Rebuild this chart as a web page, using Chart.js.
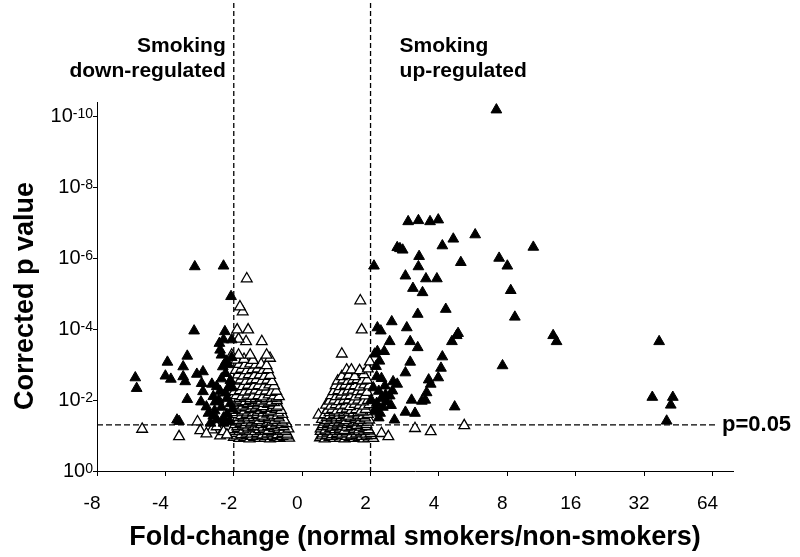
<!DOCTYPE html>
<html>
<head>
<meta charset="utf-8">
<script src="https://cdn.jsdelivr.net/npm/chart.js@4.4.1/dist/chart.umd.min.js"></script>
<style>
  body { margin: 0; background: #fff; }
  canvas { display: block; }
</style>
</head>
<body>
<canvas id="volcano" width="800" height="557"></canvas>
<script>
const FONT = '"Liberation Sans", Arial, Helvetica, sans-serif';

// fold-change axis: one step per doubling, linear between -2 and 2
const xTickPos = [-3, -2, -1, 0, 1, 2, 3, 4, 5, 6];
const xTickLabels = ['-8', '-4', '-2', '0', '2', '4', '8', '16', '32', '64'];
// y is -log10(corrected p)
const yTickExps = [0, 2, 4, 6, 8, 10];
const pCutoff = 0.05;
const foldCutoff = 1; // axis position of fold-change 2 / -2

// [fold position, -log10 p]
const sigDown = [
  [-1.57,5.76],[-1.15,5.78],[-1.04,4.92],[-1.58,3.95],[-1.13,3.93],[-1.15,3.70],[-1.03,3.70],[-1.21,3.60],[-1.20,3.41],
  [-2.44,2.63],[-2.42,2.33],[-1.97,3.07],[-2.00,2.68],[-1.92,2.59],[-1.68,3.24],[-1.74,2.94],[-1.74,2.66],[-1.71,2.52],
  [-1.68,2.02],[-1.83,1.44],[-1.80,1.40],[-1.54,2.73],[-1.45,2.80],[-1.47,2.47],[-1.45,2.24],[-1.48,1.95],[-1.40,1.81],
  [-1.37,1.63],[-1.32,2.45],[-1.25,2.38],[-1.16,2.94],[-1.18,3.27],[-1.11,3.10],
  [-1.30,2.10],[-1.22,2.00],[-1.12,2.20],[-1.05,2.55],[-1.08,2.35],[-1.18,1.80],[-1.28,1.70],[-1.10,1.60],[-1.05,1.90],
  [-1.15,1.50],[-1.25,1.45],[-1.34,1.35],[-1.02,1.75],[-1.08,3.00],[-1.12,2.75],[-1.03,3.20],[-1.18,2.60],[-1.02,2.35],
  [-1.06,1.40],[-1.30,1.55],[-1.20,2.25],[-1.10,2.05],[-1.27,1.95],[-1.15,1.35]
];

const sigUp = [
  [2.84,10.18],[1.55,7.03],[1.70,7.06],[1.87,7.03],[1.99,7.08],[2.21,6.54],[2.53,6.66],[3.38,6.31],
  [1.39,6.30],[1.43,6.27],[1.47,6.23],[2.05,6.35],[1.71,6.05],[1.70,5.76],[2.32,5.88],[2.88,6.00],[3.00,5.78],
  [1.05,5.78],[1.51,5.50],[1.81,5.42],[1.97,5.42],[1.62,5.15],[1.76,5.03],[3.05,5.09],
  [2.10,4.56],[1.69,4.42],[3.11,4.34],[1.31,4.21],[1.10,4.04],[1.15,3.95],[1.53,4.04],
  [2.28,3.88],[2.26,3.82],[2.19,3.65],[1.28,3.65],[1.58,3.65],[1.69,3.48],[3.67,3.82],[3.72,3.65],[5.22,3.65],
  [1.10,3.37],[1.20,3.37],[1.06,3.30],[2.05,3.22],[1.58,3.07],[2.93,2.97],[2.03,2.90],[1.51,2.77],[1.99,2.63],
  [1.09,2.66],[1.16,2.61],[1.33,2.52],[1.39,2.45],[1.85,2.57],[1.88,2.45],[1.21,2.40],[1.32,2.26],[1.82,2.21],
  [1.60,2.00],[1.80,2.00],[1.75,1.97],[1.01,2.00],[1.16,2.05],[1.24,1.95],[1.09,1.91],[2.23,1.81],[1.51,1.66],
  [1.65,1.63],[1.06,1.67],[1.14,1.63],[1.35,1.44],[1.22,2.15],[1.12,2.25],[1.28,2.12],[1.08,1.78],[1.18,1.80],
  [1.30,1.85],[1.12,1.50],[1.04,2.35],[1.13,3.10],[1.08,2.95],
  [5.12,2.08],[5.42,2.08],[5.39,1.86],[5.33,1.41]
];

const notSigDown = [
  [-1.00,0.95],[-0.92,0.92],[-0.85,0.94],[-0.77,0.91],[-0.70,0.95],[-0.62,0.92],[-0.55,0.93],[-0.47,0.91],[-0.40,0.94],[-0.33,0.92],[-0.26,0.95],[-0.19,0.93],
  [-0.96,0.99],[-0.88,0.99],[-0.81,1.00],[-0.73,0.98],[-0.66,0.99],[-0.58,1.00],[-0.51,0.98],[-0.43,0.99],[-0.36,1.00],[-0.29,0.98],[-0.22,0.99],
  [-0.97,1.06],[-0.89,1.03],[-0.81,1.07],[-0.74,1.04],[-0.66,1.06],[-0.58,1.02],[-0.51,1.05],[-0.44,1.08],[-0.36,1.03],[-0.29,1.06],[-0.22,1.04],
  [-0.99,1.12],[-0.92,1.11],[-0.84,1.13],[-0.77,1.12],[-0.69,1.11],[-0.61,1.13],[-0.54,1.12],[-0.47,1.11],[-0.39,1.12],[-0.32,1.13],[-0.24,1.11],
  [-1.02,1.17],[-0.94,1.20],[-0.86,1.16],[-0.79,1.19],[-0.71,1.21],[-0.63,1.17],[-0.56,1.19],[-0.49,1.15],[-0.41,1.20],[-0.34,1.18],[-0.27,1.16],[-0.20,1.19],
  [-0.95,1.25],[-0.87,1.26],[-0.80,1.24],[-0.72,1.25],[-0.65,1.26],[-0.57,1.24],[-0.50,1.25],[-0.42,1.26],[-0.35,1.24],[-0.27,1.25],
  [-0.98,1.31],[-0.90,1.34],[-0.83,1.30],[-0.75,1.33],[-0.67,1.35],[-0.60,1.31],[-0.52,1.34],[-0.45,1.29],[-0.38,1.33],[-0.30,1.31],[-0.23,1.34],
  [-0.97,1.38],[-0.89,1.39],[-0.82,1.37],[-0.74,1.38],[-0.66,1.39],[-0.59,1.37],[-0.51,1.38],[-0.44,1.39],[-0.36,1.37],[-0.29,1.38],
  [-1.01,1.46],[-0.93,1.43],[-0.86,1.47],[-0.78,1.44],[-0.70,1.46],[-0.63,1.42],[-0.55,1.48],[-0.48,1.45],[-0.40,1.43],[-0.33,1.47],[-0.26,1.44],
  [-0.94,1.51],[-0.86,1.52],[-0.79,1.50],[-0.71,1.51],[-0.64,1.52],[-0.56,1.50],[-0.49,1.51],[-0.41,1.52],[-0.34,1.50],
  [-0.96,1.59],[-0.89,1.56],[-0.81,1.60],[-0.73,1.57],[-0.66,1.59],[-0.58,1.55],[-0.51,1.61],[-0.43,1.58],[-0.36,1.56],[-0.29,1.60],
  [-0.97,1.65],[-0.88,1.66],[-0.80,1.64],[-0.72,1.65],[-0.65,1.66],[-0.57,1.64],[-0.50,1.65],[-0.42,1.66],[-0.35,1.64],
  [-0.99,1.71],[-0.92,1.74],[-0.84,1.70],[-0.76,1.73],[-0.69,1.75],[-0.61,1.71],[-0.54,1.73],[-0.46,1.69],[-0.39,1.74],[-0.31,1.71],
  [-0.91,1.78],[-0.83,1.79],[-0.75,1.77],[-0.68,1.78],[-0.60,1.79],[-0.53,1.77],[-0.45,1.78],[-0.38,1.79],
  [-0.95,1.86],[-0.87,1.83],[-0.80,1.87],[-0.72,1.84],[-0.65,1.86],[-0.57,1.82],[-0.50,1.88],[-0.42,1.85],[-0.35,1.83],
  [-0.95,1.92],[-0.87,1.93],[-0.79,1.91],[-0.72,1.92],[-0.64,1.93],[-0.56,1.91],[-0.49,1.92],[-0.41,1.93],
  [-1.00,1.97],[-0.91,2.00],[-0.83,1.96],[-0.76,1.99],[-0.68,2.01],[-0.60,1.97],[-0.53,2.00],[-0.45,1.95],[-0.37,1.99],
  [-0.92,2.05],[-0.84,2.06],[-0.76,2.04],[-0.68,2.05],[-0.61,2.06],[-0.53,2.04],[-0.45,2.05],[-0.38,2.06],
  [-0.96,2.13],[-0.88,2.10],[-0.80,2.14],[-0.72,2.11],[-0.64,2.13],[-0.57,2.09],[-0.49,2.15],[-0.41,2.12],[-0.34,2.10],
  [-0.99,2.24],[-0.91,2.27],[-0.84,2.23],[-0.76,2.26],[-0.68,2.28],[-0.61,2.24],[-0.53,2.26],[-0.45,2.22],[-0.38,2.25],
  [-0.95,2.41],[-0.87,2.38],[-0.79,2.42],[-0.71,2.39],[-0.64,2.41],[-0.56,2.37],[-0.48,2.43],[-0.41,2.40],
  [-0.98,2.54],[-0.90,2.57],[-0.82,2.53],[-0.74,2.56],[-0.67,2.58],[-0.59,2.54],[-0.51,2.56],[-0.44,2.52],
  [-0.94,2.71],[-0.86,2.68],[-0.78,2.72],[-0.70,2.69],[-0.62,2.71],[-0.55,2.67],[-0.47,2.70],
  [-0.97,2.84],[-0.89,2.87],[-0.81,2.83],[-0.73,2.86],[-0.65,2.88],[-0.57,2.84],[-0.50,2.86],
  [-0.92,3.01],[-0.84,2.98],[-0.76,3.02],[-0.68,2.99],[-0.60,3.01],[-0.52,2.97],
  [-0.96,3.13],[-0.85,3.15],[-0.72,3.12],[-0.47,3.18],
  [-1.03,3.27],[-0.93,3.27],[-0.76,3.27],[-0.52,3.27],
  [-0.59,3.65],[-0.82,3.65],[-0.93,3.72],[-0.95,3.98],[-0.79,3.98],[-0.87,4.49],[-0.91,4.63],[-0.81,5.42],
  [-2.34,1.18],[-1.80,0.97],[-1.53,1.39],[-1.49,1.14],[-1.32,1.16],[-1.20,0.99],[-1.25,1.25],[-1.15,1.11],[-1.10,1.02],[-1.40,1.05]
];

const notSigUp = [
  [0.26,0.94],[0.33,0.91],[0.40,0.95],[0.47,0.92],[0.55,0.93],[0.62,0.91],[0.69,0.94],[0.76,0.92],[0.83,0.95],[0.90,0.91],[0.97,0.93],[1.04,0.92],
  [0.29,0.99],[0.36,1.00],[0.43,0.98],[0.51,0.99],[0.58,1.00],[0.65,0.98],[0.72,0.99],[0.80,1.00],[0.87,0.98],[0.94,0.99],[1.01,1.00],
  [0.30,1.05],[0.37,1.08],[0.44,1.03],[0.51,1.06],[0.58,1.04],[0.65,1.07],[0.72,1.02],[0.79,1.05],[0.86,1.08],[0.93,1.04],[1.00,1.06],
  [0.27,1.12],[0.34,1.13],[0.41,1.11],[0.48,1.12],[0.55,1.13],[0.62,1.11],[0.69,1.12],[0.76,1.13],[0.83,1.11],[0.90,1.12],[0.97,1.13],
  [0.27,1.19],[0.34,1.16],[0.41,1.20],[0.48,1.17],[0.55,1.19],[0.62,1.15],[0.69,1.21],[0.76,1.18],[0.83,1.16],[0.90,1.20],[0.97,1.17],
  [0.30,1.25],[0.37,1.26],[0.44,1.24],[0.51,1.25],[0.58,1.26],[0.65,1.24],[0.72,1.25],[0.79,1.26],[0.86,1.24],[0.93,1.25],
  [0.31,1.31],[0.38,1.34],[0.45,1.30],[0.52,1.33],[0.59,1.35],[0.66,1.31],[0.73,1.34],[0.80,1.29],[0.87,1.33],[0.94,1.31],
  [0.33,1.38],[0.40,1.39],[0.47,1.37],[0.54,1.38],[0.61,1.39],[0.68,1.37],[0.75,1.38],[0.82,1.39],[0.89,1.37],[0.96,1.38],
  [0.29,1.46],[0.36,1.43],[0.43,1.47],[0.50,1.44],[0.57,1.46],[0.64,1.42],[0.71,1.48],[0.78,1.45],[0.85,1.43],[0.92,1.47],[0.98,1.44],
  [0.36,1.51],[0.43,1.52],[0.50,1.50],[0.57,1.51],[0.64,1.52],[0.71,1.50],[0.78,1.51],[0.85,1.52],[0.92,1.50],
  [0.24,1.58],[0.33,1.59],[0.40,1.56],[0.47,1.60],[0.54,1.57],[0.61,1.59],[0.68,1.55],[0.75,1.61],[0.82,1.58],[0.89,1.56],[0.96,1.60],
  [0.40,1.65],[0.47,1.66],[0.54,1.64],[0.61,1.65],[0.68,1.66],[0.75,1.64],[0.82,1.65],[0.89,1.66],
  [0.37,1.71],[0.44,1.74],[0.51,1.70],[0.58,1.73],[0.65,1.75],[0.72,1.71],[0.79,1.73],[0.86,1.69],[0.93,1.74],
  [0.35,1.86],[0.42,1.83],[0.49,1.87],[0.56,1.84],[0.63,1.86],[0.70,1.82],[0.77,1.88],[0.84,1.85],[0.91,1.83],[0.98,1.87],
  [0.40,1.97],[0.47,2.00],[0.54,1.96],[0.61,1.99],[0.68,2.01],[0.75,1.97],[0.82,2.00],[0.89,1.95],[0.96,1.99],
  [0.43,2.13],[0.50,2.10],[0.57,2.14],[0.64,2.11],[0.71,2.13],[0.78,2.09],[0.85,2.15],[0.92,2.12],
  [0.46,2.24],[0.53,2.27],[0.60,2.23],[0.67,2.26],[0.74,2.28],[0.81,2.24],[0.88,2.26],[0.95,2.22],
  [0.49,2.41],[0.56,2.38],[0.63,2.42],[0.70,2.39],[0.77,2.41],[0.84,2.37],[0.91,2.43],[0.98,2.40],
  [0.52,2.54],[0.60,2.57],[0.67,2.53],[0.74,2.56],[0.81,2.58],[0.88,2.54],[0.95,2.56],
  [0.58,2.66],[0.68,2.70],[0.77,2.66],[0.90,2.72],[0.65,2.85],[0.72,2.85],[0.84,2.83],[0.96,2.88],
  [0.99,3.08],[0.58,3.30],[0.87,3.98],[0.85,4.80],
  [1.16,1.06],[1.26,0.97],[1.65,1.20],[1.88,1.11],[2.37,1.28]
];

const toXY = pts => pts.map(([x, y]) => ({ x, y }));

const overlay = {
  id: 'overlay',
  beforeDatasetsDraw(chart) {
    const { ctx, chartArea, scales: { x, y } } = chart;
    ctx.save();
    ctx.strokeStyle = '#000';
    ctx.lineWidth = 1.3;
    ctx.setLineDash([5, 3]);
    [-foldCutoff, foldCutoff].forEach(v => {
      const px = x.getPixelForValue(v);
      ctx.beginPath();
      ctx.moveTo(px, 3);
      ctx.lineTo(px, chartArea.bottom);
      ctx.stroke();
    });
    ctx.setLineDash([6, 3]);
    const py = y.getPixelForValue(-Math.log10(pCutoff));
    ctx.beginPath();
    ctx.moveTo(chartArea.left, py);
    ctx.lineTo(chartArea.right - 16, py);
    ctx.stroke();
    ctx.restore();
  },
  afterDraw(chart) {
    const { ctx, chartArea, scales: { x, y } } = chart;
    ctx.save();
    ctx.fillStyle = '#000';

    // y tick labels as 10 with a raised exponent
    yTickExps.forEach(e => {
      const py = y.getPixelForValue(e);
      const exp = e === 0 ? '0' : '-' + e;
      ctx.font = '14px ' + FONT;
      const ew = ctx.measureText(exp).width;
      ctx.textAlign = 'left';
      ctx.fillText(exp, 93 - ew, py + 2);
      ctx.font = '20px ' + FONT;
      ctx.textAlign = 'right';
      ctx.fillText('10', 93 - ew, py + 6);
    });

    // y axis title
    ctx.save();
    ctx.translate(33, 296);
    ctx.rotate(-Math.PI / 2);
    ctx.font = 'bold 27px ' + FONT;
    ctx.textAlign = 'center';
    ctx.fillText('Corrected p value', 0, 0);
    ctx.restore();

    // region captions
    ctx.font = 'bold 21px ' + FONT;
    const downX = x.getPixelForValue(-foldCutoff) - 8;
    const upX = x.getPixelForValue(foldCutoff) + 29;
    ctx.textAlign = 'right';
    ctx.fillText('Smoking', downX, 52);
    ctx.fillText('down-regulated', downX, 77);
    ctx.textAlign = 'left';
    ctx.fillText('Smoking', upX, 52);
    ctx.fillText('up-regulated', upX, 77);

    ctx.font = 'bold 22px ' + FONT;
    ctx.fillText('p=0.05', chartArea.right - 11, 431);
    ctx.restore();
  }
};

new Chart(document.getElementById('volcano'), {
  type: 'scatter',
  data: {
    datasets: [
      {
        label: 'Significant',
        data: toXY(sigDown.concat(sigUp)),
        pointStyle: 'triangle',
        pointRadius: 6.2,
        backgroundColor: '#000',
        borderColor: '#000',
        borderWidth: 1,
        order: 0
      },
      {
        label: 'Not significant',
        data: toXY(notSigDown.concat(notSigUp)),
        pointStyle: 'triangle',
        pointRadius: 6.2,
        backgroundColor: '#fff',
        borderColor: '#000',
        borderWidth: 1.3,
        order: 1
      }
    ]
  },
  options: {
    responsive: false,
    animation: false,
    devicePixelRatio: 1,
    layout: { padding: { left: 0, right: 67, top: 102, bottom: 0 } },
    plugins: {
      legend: { display: false },
      tooltip: { enabled: false }
    },
    scales: {
      x: {
        type: 'linear',
        min: -3,
        max: 6.3,
        afterBuildTicks: s => { s.ticks = xTickPos.map(v => ({ value: v })); },
        afterFit: s => { s.height = 86; },
        grid: { drawOnChartArea: false, drawTicks: true, tickLength: 5, color: '#000' },
        border: { display: true, color: '#000', width: 1 },
        ticks: {
          color: '#000',
          font: { family: FONT, size: 19 },
          padding: 16,
          labelOffset: -5,
          maxRotation: 0,
          autoSkip: false,
          callback: (v, i) => xTickLabels[i]
        },
        title: {
          display: true,
          text: 'Fold-change (normal smokers/non-smokers)',
          color: '#000',
          font: { family: FONT, size: 27, weight: 'bold' },
          padding: { top: 0, bottom: 3 }
        }
      },
      y: {
        type: 'linear',
        min: 0,
        max: 10.4,
        afterBuildTicks: s => { s.ticks = yTickExps.map(v => ({ value: v })); },
        afterFit: s => { s.width = 97; },
        grid: { drawOnChartArea: false, drawTicks: true, tickLength: 4, color: '#000' },
        border: { display: true, color: '#000', width: 1 },
        ticks: { display: false }
      }
    }
  },
  plugins: [overlay]
});
</script>
</body>
</html>
